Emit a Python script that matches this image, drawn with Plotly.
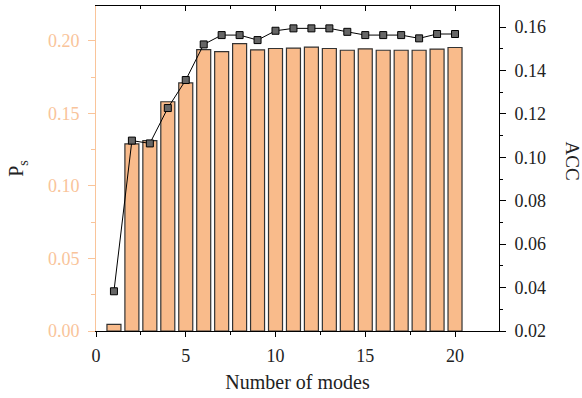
import plotly.graph_objects as go

modes = list(range(1, 21))
ps_values = [0.0046, 0.129, 0.1312, 0.158, 0.171, 0.194, 0.1926, 0.198, 0.1938, 0.1947,
             0.1950, 0.1957, 0.1947, 0.1935, 0.1945, 0.1935, 0.1935, 0.1935, 0.1943, 0.1954]
acc_values = [0.0383, 0.1077, 0.1064, 0.1227, 0.1356, 0.152, 0.1563, 0.1563, 0.154, 0.1583,
              0.1594, 0.1594, 0.1594, 0.1578, 0.1563, 0.1563, 0.1563, 0.1548, 0.1568, 0.1568]

FONT = "Liberation Serif"
ORANGE = "#F9C49A"
BAR = "#F9BB8B"
TXT = "#222222"

fig = go.Figure()
fig.add_trace(go.Bar(x=modes, y=ps_values, width=0.78,
                     marker=dict(color=BAR, line=dict(color="#333333", width=1.2)),
                     yaxis="y", xaxis="x", showlegend=False))
fig.add_trace(go.Scatter(x=modes, y=acc_values, mode="lines+markers", yaxis="y2", xaxis="x",
                         line=dict(color="black", width=1),
                         marker=dict(symbol="square", size=7, color="#666666", line=dict(color="black", width=1)),
                         showlegend=False))
fig.add_trace(go.Scatter(x=[1], y=[0], xaxis="x2", yaxis="y", mode="markers",
                         marker=dict(opacity=0), showlegend=False, hoverinfo="skip"))

xr = [0, 22.45]
fig.update_layout(
    width=582, height=398,
    margin=dict(l=96, r=83, t=6, b=67),
    plot_bgcolor="white", paper_bgcolor="white",
    font=dict(family=FONT, size=18, color=TXT),
    xaxis=dict(range=xr, tickvals=[0, 5, 10, 15, 20], ticks="outside", ticklen=5, tickwidth=1,
               tickcolor="black", showline=True, linecolor="black", linewidth=1, showgrid=False,
               zeroline=False, ticklabelstandoff=3,
               minor=dict(tickvals=[2.5, 7.5, 12.5, 17.5, 22.5], ticks="outside", ticklen=3, tickcolor="black"),
               title=dict(text="Number of modes", font=dict(family=FONT, size=20, color=TXT), standoff=10),
               tickfont=dict(family=FONT, size=18, color=TXT)),
    xaxis2=dict(range=xr, overlaying="x", side="top", anchor="y", tickvals=[0, 5, 10, 15, 20],
                ticks="inside", ticklen=5, tickcolor="black", showticklabels=False, showline=True,
                linecolor="black", linewidth=1, showgrid=False, zeroline=False,
                minor=dict(tickvals=[2.5, 7.5, 12.5, 17.5, 22.5], ticks="inside", ticklen=3, tickcolor="black")),
    yaxis=dict(range=[0, 0.224], tickvals=[0, 0.05, 0.1, 0.15, 0.2], tickformat=".2f",
               ticks="outside", ticklen=7, tickcolor=ORANGE, showline=True, linecolor=ORANGE, linewidth=1,
               showgrid=False, zeroline=False, ticklabelstandoff=5,
               minor=dict(tickvals=[0.025, 0.075, 0.125, 0.175], ticks="outside", ticklen=4, tickcolor=ORANGE),
               tickfont=dict(family=FONT, size=18, color=ORANGE),
               title=dict(text="P<sub>s</sub>", font=dict(family=FONT, size=20, color=TXT), standoff=18)),
    yaxis2=dict(range=[0.02, 0.1697], overlaying="y", side="right", anchor="x",
                tickvals=[0.02, 0.04, 0.06, 0.08, 0.10, 0.12, 0.14, 0.16], tickformat=".2f",
                ticks="outside", ticklen=6, tickcolor="black", showline=True, linecolor="black", linewidth=1,
                showgrid=False, zeroline=False, ticklabelstandoff=5,
                minor=dict(tickvals=[0.03, 0.05, 0.07, 0.09, 0.11, 0.13, 0.15], ticks="outside", ticklen=3, tickcolor="black"),
                tickfont=dict(family=FONT, size=18, color=TXT)),
    annotations=[dict(text="ACC", xref="paper", yref="paper", x=1.0, y=0.5, xanchor="center",
                      xshift=73, yshift=8, textangle=90,
                      showarrow=False, font=dict(family=FONT, size=19, color=TXT))],
)

fig.write_html("out.html")
